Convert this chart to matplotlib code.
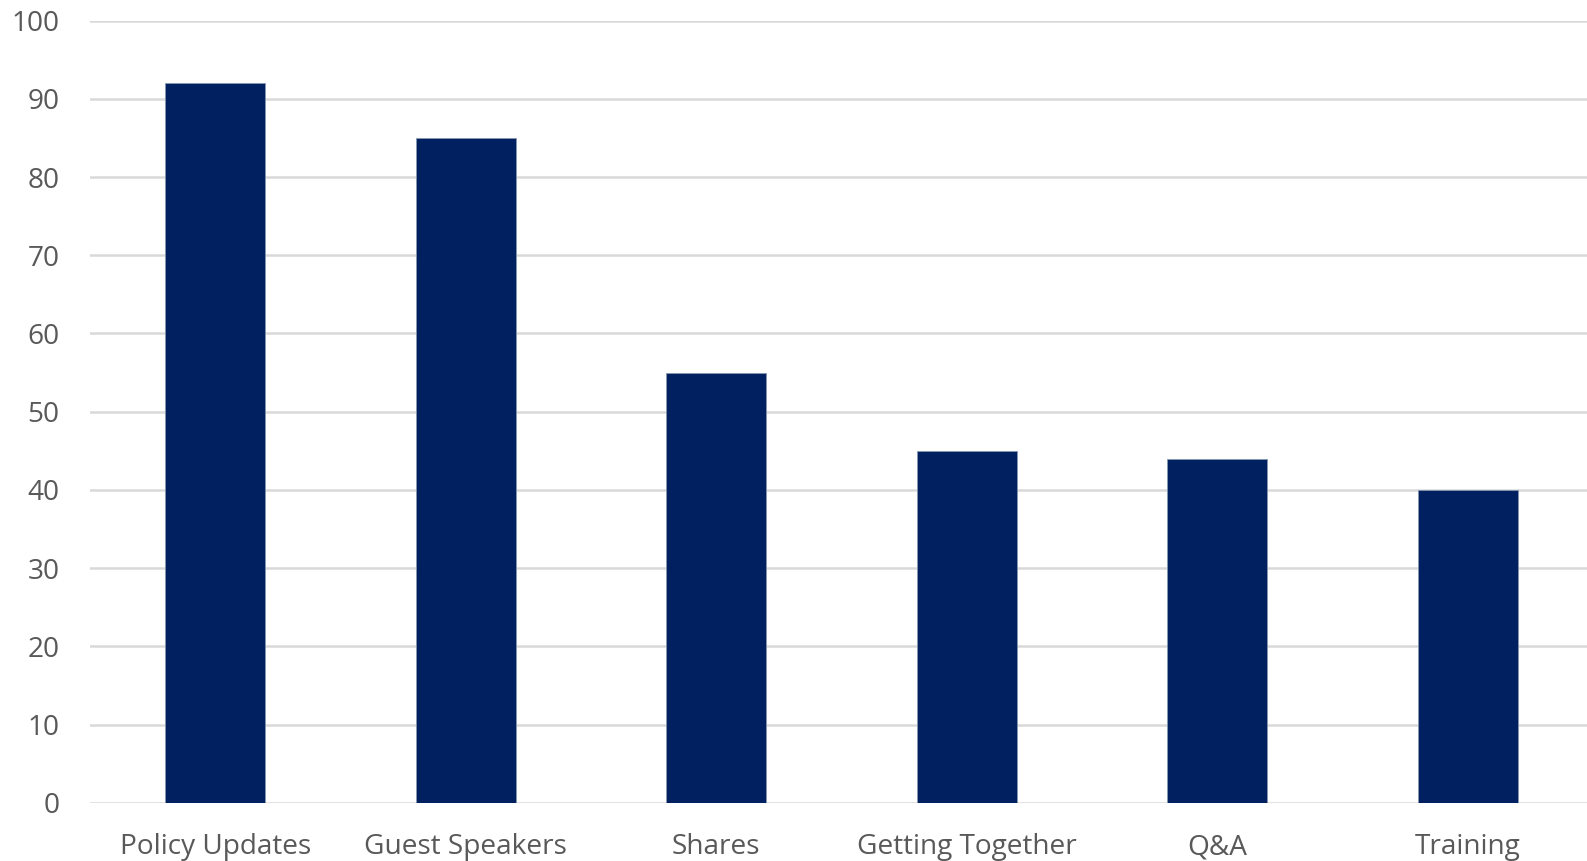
import matplotlib
matplotlib.use("Agg")
import matplotlib.pyplot as plt

# chart data
categories = ["Policy Updates", "Guest Speakers", "Shares", "Getting Together", "Q&A", "Training"]
values = [92, 85, 55, 45, 44, 40]
yticks = [0, 10, 20, 30, 40, 50, 60, 70, 80, 90, 100]

plt.rcParams['font.family'] = ['Open Sans', 'DejaVu Sans']

fig = plt.figure(figsize=(15.87, 8.61), dpi=100)
ax = fig.add_axes([0.0567, 0.0677, 0.947, 0.9083])

ax.bar(range(len(categories)), values, width=0.4, color="#002060",
       edgecolor="#8497b0", linewidth=0.6, zorder=3)

ax.set_xlim(-0.5, len(categories) - 0.5)
ax.set_ylim(0, 100)
ax.set_yticks(yticks)
ax.set_xticks(range(len(categories)))
ax.set_xticklabels(categories)

ax.grid(axis="y", color="#d9d9d9", linewidth=1.8, zorder=0)
ax.set_axisbelow(True)
for s in ax.spines.values():
    s.set_visible(False)
ax.tick_params(axis="both", length=0, labelcolor="#595959", labelsize=20.2)
ax.tick_params(axis="y", pad=22)
ax.tick_params(axis="x", pad=22)

fig.savefig("out.png", dpi=100)
